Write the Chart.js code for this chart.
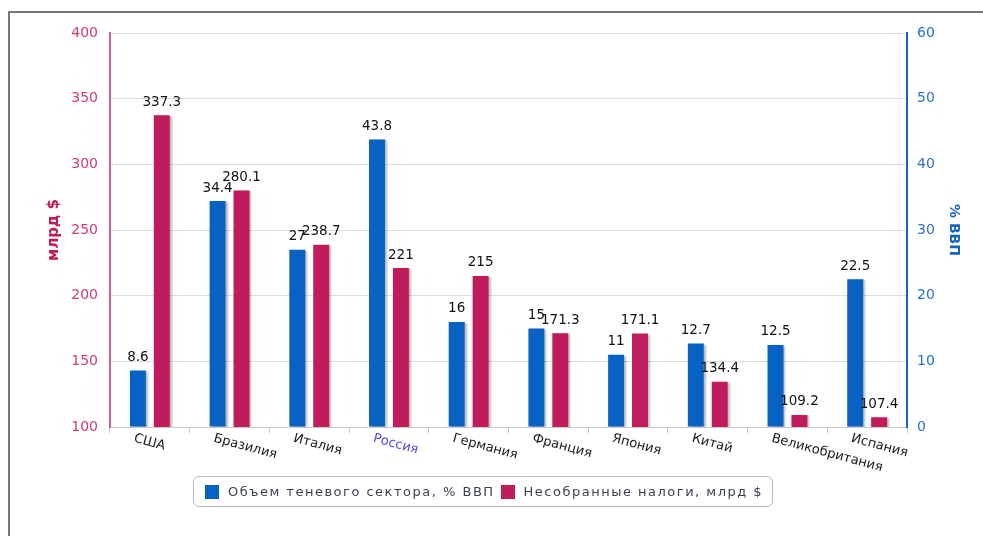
<!DOCTYPE html>
<html>
<head>
<meta charset="utf-8">
<script src="https://cdn.jsdelivr.net/npm/chart.js@4/dist/chart.umd.min.js"></script>
<style>
  body { margin: 0; background: #fff; }
  #wrap { position: relative; width: 983px; height: 536px; overflow: hidden; }
  #frame { position: absolute; left: 8px; top: 11px; width: 1200px; height: 800px;
    border-left: 2px solid #777; border-top: 2px solid #777; }
  canvas { position: absolute; left: 0; top: 0; }
  #legend { position: absolute; left: 193px; top: 476px; width: 580px; height: 31px;
    border: 1px solid #b8b8b8; border-radius: 6px; box-sizing: border-box;
    display: flex; align-items: center; padding-left: 11px;
    font: 13px "DejaVu Sans"; color: #3b3f55; letter-spacing: 1.5px; white-space: nowrap; }
  #legend .item { display: flex; align-items: center; margin-right: 6px; }
  #legend .sw { width: 14px; height: 14px; margin-right: 9px; flex: none; }
</style>
</head>
<body>
<div id="wrap">
  <div id="frame"></div>
  <canvas id="chart" width="983" height="536"></canvas>
  <div id="legend"></div>
</div>
<script>
const countries = ['США', 'Бразилия', 'Италия', 'Россия', 'Германия', 'Франция', 'Япония', 'Китай', 'Великобритания', 'Испания'];
const shadowShare = [8.6, 34.4, 27, 43.8, 16, 15, 11, 12.7, 12.5, 22.5];
const lostTaxes = [337.3, 280.1, 238.7, 221, 215, 171.3, 171.1, 134.4, 109.2, 107.4];
const shadowLabel = 'Объем теневого сектора, % ВВП';
const taxesLabel = 'Несобранные налоги, млрд $';
const highlighted = 'Россия';

const FONT = 'DejaVu Sans';
const BLUE = '#0762c4';
const PINK = '#c01b5a';

// тень под столбцами + подписи значений
const barExtras = {
  id: 'barExtras',
  beforeDatasetsDraw(chart) {
    const ctx = chart.ctx;
    ctx.save();
    ctx.shadowColor = 'rgba(0,0,0,0.28)';
    ctx.shadowBlur = 2;
    ctx.shadowOffsetX = 2;
    ctx.shadowOffsetY = 1;
  },
  afterDatasetsDraw(chart) {
    const ctx = chart.ctx;
    ctx.restore();
    ctx.save();
    ctx.font = '13.5px "' + FONT + '"';
    ctx.fillStyle = '#111';
    ctx.textAlign = 'center';
    ctx.textBaseline = 'middle';
    chart.data.datasets.forEach((ds, i) => {
      chart.getDatasetMeta(i).data.forEach((bar, j) => {
        ctx.fillText(String(ds.data[j]), bar.x, bar.y - 13);
      });
    });
    ctx.restore();
  }
};

// наклонные подписи категорий
const slantLabels = {
  id: 'slantLabels',
  afterDraw(chart) {
    const ctx = chart.ctx;
    const x = chart.scales.x;
    ctx.save();
    ctx.font = '13px "' + FONT + '"';
    ctx.textAlign = 'left';
    ctx.textBaseline = 'top';
    countries.forEach((name, i) => {
      ctx.save();
      ctx.translate(x.getPixelForTick(i) - 14, x.top + 5);
      ctx.rotate(15 * Math.PI / 180);
      ctx.fillStyle = name === highlighted ? '#5546e0' : '#1a1a1a';
      ctx.fillText(name, 0, 0);
      ctx.restore();
    });
    ctx.restore();
  }
};

const chart = new Chart(document.getElementById('chart'), {
  type: 'bar',
  data: {
    labels: countries,
    datasets: [{
      label: shadowLabel,
      data: shadowShare,
      backgroundColor: BLUE,
      yAxisID: 'y1'
    }, {
      label: taxesLabel,
      data: lostTaxes,
      backgroundColor: PINK,
      yAxisID: 'y'
    }]
  },
  options: {
    responsive: false,
    animation: false,
    events: [],
    categoryPercentage: 0.6,
    barPercentage: 0.667,
    layout: { padding: { top: 33, left: 0, right: 0, bottom: 0 } },
    plugins: {
      tooltip: { enabled: false },
      legend: { display: false }
    },
    scales: {
      x: {
        offset: true,
        ticks: { display: false },
        grid: { display: true, drawOnChartArea: false, drawTicks: true, tickLength: 6, color: '#c8c8c8' },
        border: { color: '#c8c8c8' },
        afterFit(scale) { scale.height = 109; }
      },
      y: {
        position: 'left',
        min: 100,
        max: 400,
        ticks: { stepSize: 50, color: '#d03a78', padding: 12, font: { family: FONT, size: 14 } },
        grid: { color: '#dcdcdc', drawTicks: false },
        border: { color: '#d4608e', width: 2 },
        title: {
          display: true,
          text: 'млрд $',
          color: PINK,
          font: { family: FONT, size: 15, weight: 'bold' },
          padding: { top: 45, bottom: 0 }
        },
        afterFit(scale) { scale.width = 110; }
      },
      y1: {
        position: 'right',
        min: 0,
        max: 60,
        ticks: { stepSize: 10, color: '#2a72c8', padding: 10, font: { family: FONT, size: 14 } },
        grid: { drawOnChartArea: false, drawTicks: false },
        border: { color: '#1565c0', width: 2 },
        title: {
          display: true,
          text: '% ВВП',
          color: '#1565c0',
          font: { family: FONT, size: 14, weight: 'bold' },
          padding: { top: 21, bottom: 0 }
        },
        afterFit(scale) { scale.width = 76; }
      }
    }
  },
  plugins: [barExtras, slantLabels]
});

// легенда в рамке
const legendBox = document.getElementById('legend');
chart.data.datasets.forEach((ds) => {
  const item = document.createElement('div');
  item.className = 'item';
  item.innerHTML = `<span class="sw" style="background:${ds.backgroundColor}"></span><span>${ds.label}</span>`;
  legendBox.appendChild(item);
});
</script>
</body>
</html>
